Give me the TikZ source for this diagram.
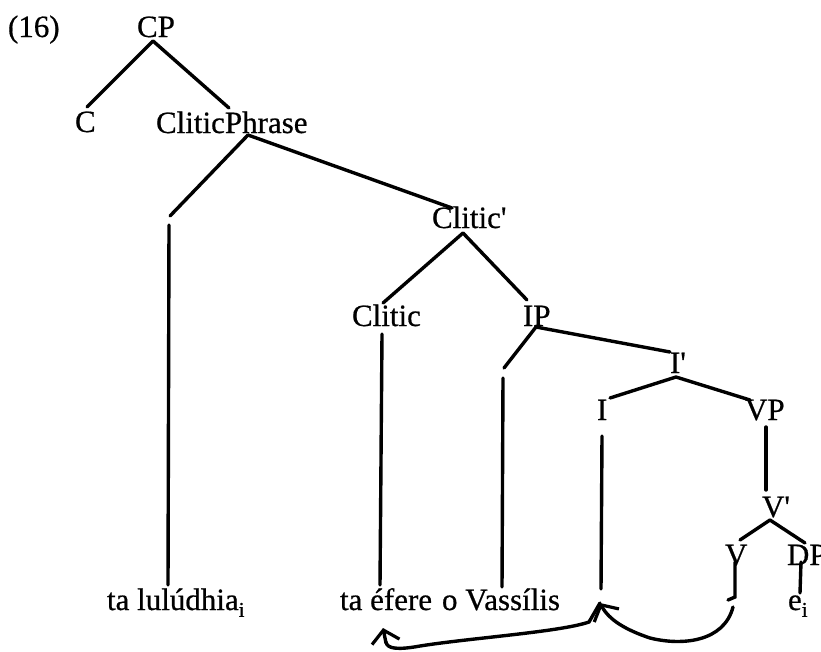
\documentclass[tikz,border=0pt]{standalone}
\usepackage{fontspec}
\setmainfont{Liberation Serif}[Ligatures=TeXOff,FakeBold=0.6]
\usetikzlibrary{arrows.meta}
\newcommand{\subi}{\raisebox{-0.22em}{\fontsize{21}{21}\selectfont i}}
\begin{document}
\begin{tikzpicture}[x=1pt,y=-1pt,
  lbl/.style={anchor=base west,inner sep=0pt,outer sep=0pt,font=\fontsize{31}{36}\selectfont},
  branch/.style={line width=3.4pt,line cap=round},
  mv/.style={line width=3.4pt,line cap=round,-{Straight Barb[length=12pt,width=28pt,line width=3.2pt]}}]
\useasboundingbox (0,0) rectangle (821,651);
\clip (0,0) rectangle (821,651);
\fill[white] (0,0) rectangle (821,651);
% labels
\node[lbl] (ex) at (8,37) {(16)};
\node[lbl] (CP) at (137,37) {CP};
\node[lbl] (C) at (75,132) {C};
\node[lbl] (ClP) at (156,133) {CliticPhrase};
\node[lbl] (Clbar) at (432,228) {Clitic'};
\node[lbl] (Cl) at (352,326) {Clitic};
\node[lbl] (IP) at (523,326) {IP};
\node[lbl] (Ib) at (670,373) {I'};
\node[lbl] (I) at (597,420) {I};
\node[lbl] (VP) at (745,420) {VP};
\node[lbl] (Vb) at (762,517) {V'};
\node[lbl] (V) at (725,565) {V};
\node[lbl] (DP) at (787,565) {DP};
\node[lbl] (w1) at (107,610) {ta lulúdhia\subi};
\node[lbl] (w2) at (340,610) {ta éfere};
\node[lbl] (w3) at (442,610) {o Vassílis};
\node[lbl] (w4) at (788,610) {e\subi};
% connector end points
\coordinate (CPb) at (153,41);
\coordinate (Ct) at (87,107);
\coordinate (ClPt) at (229,108);
\coordinate (ClPb) at (248,135);
\coordinate (specA) at (170,216);
\coordinate (specAb) at (169,225);
\coordinate (w1t) at (168,585);
\coordinate (Clbt) at (452,208);
\coordinate (Clbb) at (463,233);
\coordinate (Clt) at (383,303);
\coordinate (Clb) at (382,334);
\coordinate (w2t) at (380,585);
\coordinate (IPt) at (527,300);
\coordinate (IPb) at (536,327);
\coordinate (specB) at (504,368);
\coordinate (specBb) at (503,378);
\coordinate (w3t) at (502,587);
\coordinate (Ibt) at (670,352);
\coordinate (Ibb) at (676,377);
\coordinate (It) at (610,398);
\coordinate (VPt) at (750,400);
\coordinate (Ib2) at (602,436);
\coordinate (tr) at (601,589);
\coordinate (VPb) at (766,427);
\coordinate (Vbt) at (766,490);
\coordinate (Vbb) at (770,520);
\coordinate (Vt) at (740,540);
\coordinate (DPt) at (805,543);
\coordinate (Vs) at (735,562);
\coordinate (Vs2) at (735,597);
\coordinate (Vs3) at (728,600);
\coordinate (DPb) at (801,562);
\coordinate (w4t) at (800,593);
\coordinate (mvA) at (733,607);
\coordinate (tip) at (600,603);
\coordinate (mvB) at (383,628);
% tree branches
\draw[branch] (CPb) -- (Ct);
\draw[branch] (CPb) -- (ClPt);
\draw[branch] (ClPb) -- (specA);
\draw[branch] (specAb) -- (w1t);
\draw[branch] (ClPb) -- (Clbt);
\draw[branch] (Clbb) -- (Clt);
\draw[branch] (Clbb) -- (IPt);
\draw[branch] (Clb) -- (w2t);
\draw[branch] (IPb) -- (specB);
\draw[branch] (specBb) -- (w3t);
\draw[branch] (IPb) -- (Ibt);
\draw[branch] (Ibb) -- (It);
\draw[branch] (Ibb) -- (VPt);
\draw[branch] (Ib2) -- (tr);
\draw[branch] (VPb) -- (Vbt);
\draw[branch] (Vbb) -- (Vt);
\draw[branch] (Vbb) -- (DPt);
\draw[branch] (Vs) -- (Vs2) -- (Vs3);
\draw[branch] (DPb) -- (w4t);
% movement arrows
\draw[mv] (mvA) .. controls (724,642) and (682,646) .. (650,638)
  .. controls (626,630) and (609,620) .. (tip);
\draw[branch] (tip) -- (589,622) .. controls (560,632) and (470,638) .. (420,646)
  .. controls (398,650) and (387,649) .. (386,642);
\draw[mv] (386,643) -- (mvB);
\end{tikzpicture}
\end{document}
